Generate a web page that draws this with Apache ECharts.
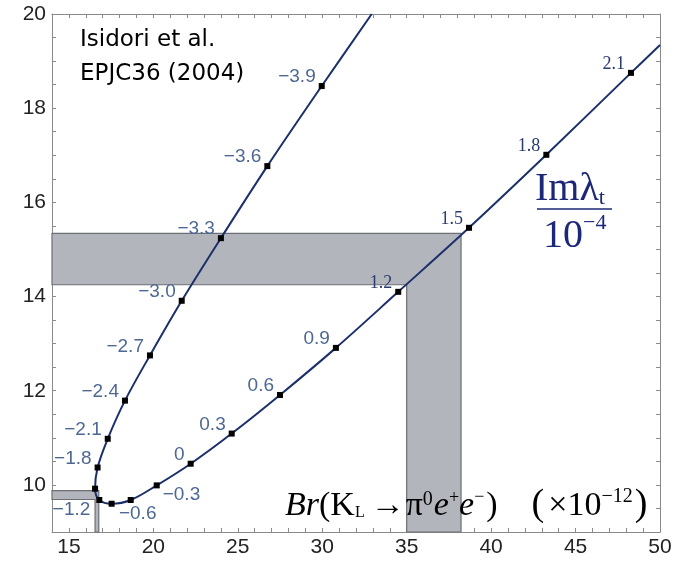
<!DOCTYPE html>
<html>
<head>
<meta charset="utf-8">
<script src="https://cdn.jsdelivr.net/npm/echarts@6/dist/echarts.min.js"></script>
<style>
  html, body { margin: 0; padding: 0; background: #fff; }
  #chart { width: 685px; height: 563px; }
</style>
</head>
<body>
<div id="chart"></div>
<script>
// Parameter value attached to each marked point on the curve
const paramValues = [-3.9, -3.6, -3.3, -3.0, -2.7, -2.4, -2.1, -1.8, -1.5, -1.2, -0.9,
                     -0.6, -0.3, 0, 0.3, 0.6, 0.9, 1.2, 1.5, 1.8, 2.1];
// Br(K_L -> pi0 e+ e-) in units of 1e-12
const brValues = [29.97, 26.75, 24.00, 21.68, 19.80, 18.32, 17.30, 16.70, 16.55, 16.80, 17.53,
                  18.66, 20.20, 22.21, 24.64, 27.50, 30.81, 34.50, 38.69, 43.27, 48.28];
// Im(lambda_t) in units of 1e-4
const imValues = [18.47, 16.77, 15.24, 13.91, 12.75, 11.79, 10.98, 10.37, 9.92, 9.68, 9.60,
                  9.68, 9.99, 10.45, 11.09, 11.91, 12.91, 14.10, 15.46, 17.01, 18.75];
// Points without a printed value
const unlabeledParams = [-1.5, -0.9];
// Where the curve leaves the plotting frame (upper branch, lower branch)
const curveStart = [32.93, 20.0];
const curveEnd = [50.0, 19.34];

// Allowed bands: [Im lower, Im upper] and [Br lower, Br upper]
const imBandMain = [14.25, 15.34];
const brBandMain = [35.0, 38.22];
const imBandLow = [9.69, 9.88];
const brBandLow = [16.55, 16.77];

// Axis ranges and tick labels
const xRange = [14, 50];
const yRange = [9, 20];
const xTickLabels = [15, 20, 25, 30, 35, 40, 45, 50];
const yTickLabels = [10, 12, 14, 16, 18, 20];

const fmtParam = p => p === 0 ? '0' : (p < 0 ? '\u2212' + Math.abs(p).toFixed(1) : p.toFixed(1));

// label placement around the markers
const labelOverrides = {
  '-1.2': { position: 'left', distance: 6, offset: [0, 10] },
  '-0.6': { position: 'bottom', distance: 1, offset: [7, 0] },
  '-0.3': { position: 'right', distance: 3, offset: [0, 9] }
};

const curveData = [{ value: curveStart, symbol: 'none', label: { show: false } }];
paramValues.forEach((p, i) => {
  const serif = p >= 1.2;
  const lab = {
    show: unlabeledParams.indexOf(p) < 0,
    position: 'left',
    distance: 3,
    offset: [0, -9],
    fontSize: serif ? 18 : 19,
    fontFamily: serif ? 'Liberation Serif' : 'Liberation Sans',
    color: serif ? '#2a3b6e' : '#4e6893'
  };
  Object.assign(lab, labelOverrides[String(p)] || {});
  curveData.push({ name: fmtParam(p), value: [brValues[i], imValues[i]], label: lab });
});
curveData.push({ value: curveEnd, symbol: 'none', label: { show: false } });

// annotation text laid out piece by piece
const mctx = document.createElement('canvas').getContext('2d');
function run(pieces, x, baseline, color) {
  const out = [];
  let cx = x;
  pieces.forEach(p => {
    cx += p.before || 0;
    const font = (p.italic ? 'italic ' : '') + p.size + 'px "Liberation Serif"';
    mctx.font = font;
    const w = mctx.measureText(p.t).width;
    out.push({
      type: 'text', x: cx, y: baseline + (p.dy || 0) - 0.3 * p.size, z: 20,
      style: { text: p.t, font: font, fill: color,
               align: 'left', verticalAlign: 'middle', textAlign: 'left', textVerticalAlign: 'middle' }
    });
    cx += w;
  });
  return out;
}

const navy = '#1c2777';
const graphics = [].concat(
  run([{ t: 'Br', size: 34, italic: true }, { t: '(', size: 34 }, { t: 'K', size: 34 },
       { t: 'L', size: 16, dy: 1 }, { t: '\u2192', size: 34, before: 6 }, { t: '\u03c0', size: 34, before: 1 },
       { t: '0', size: 20, dy: -11 }, { t: 'e', size: 34, italic: true, before: 1 },
       { t: '+', size: 18, dy: -13 }, { t: 'e', size: 34, italic: true },
       { t: '\u2212', size: 18, dy: -14 }, { t: ')', size: 34, before: 2 },
       { t: '(', size: 38, before: 34 }, { t: '\u00d7', size: 34, before: 4 }, { t: '10', size: 34 },
       { t: '\u221212', size: 20, dy: -14 }, { t: ')', size: 38, before: 2 }], 285, 516.7, '#000'),
  run([{ t: 'Im', size: 40 }, { t: '\u03bb', size: 40 }, { t: 't', size: 22, dy: 3 }], 535, 201.7, navy),
  run([{ t: '10', size: 40 }, { t: '\u22124', size: 22, dy: -18 }], 543, 248, navy),
  [
    { type: 'line', z: 20, shape: { x1: 537, y1: 209, x2: 612, y2: 209 },
      style: { stroke: navy, lineWidth: 1.6 } },
    { type: 'text', left: 80, top: 29, z: 20,
      style: { text: 'Isidori et al.', font: '23px "DejaVu Sans"', fill: '#000' } },
    { type: 'text', left: 80, top: 63, z: 20,
      style: { text: 'EPJC36 (2004)', font: '23px "DejaVu Sans"', fill: '#000' } }
  ]
);

const frameColor = '#8a8a8a';
function axisBase(extra) {
  return Object.assign({
    type: 'value',
    axisLine: { show: true, onZero: false, lineStyle: { color: frameColor, width: 1 } },
    axisTick: { show: true, inside: true, length: 4, lineStyle: { color: frameColor } },
    splitLine: { show: false }
  }, extra);
}

const chart = echarts.init(document.getElementById('chart'), null, { renderer: 'canvas' });
chart.setOption({
  animation: false,
  backgroundColor: '#fff',
  grid: { left: 52, top: 14, right: 25, bottom: 31, containLabel: false, outerBoundsMode: 'none' },
  xAxis: [
    axisBase({ position: 'bottom', min: xRange[0], max: xRange[1], interval: 1,
      axisLabel: { margin: 5, fontSize: 21, color: '#222', fontFamily: 'Liberation Sans',
        formatter: v => xTickLabels.indexOf(v) >= 0 ? String(v) : '' } }),
    axisBase({ position: 'top', min: xRange[0], max: xRange[1], interval: 1, axisLabel: { show: false } })
  ],
  yAxis: [
    axisBase({ position: 'left', min: yRange[0], max: yRange[1], interval: 0.5,
      axisLabel: { margin: 6, fontSize: 21, color: '#222', fontFamily: 'Liberation Sans',
        formatter: v => yTickLabels.indexOf(v) >= 0 ? String(v) : '' } }),
    axisBase({ position: 'right', min: yRange[0], max: yRange[1], interval: 0.5, axisLabel: { show: false } })
  ],
  series: [
    {
      type: 'custom',
      xAxisIndex: 0, yAxisIndex: 0,
      z: 1,
      data: [imBandMain.concat(brBandMain), imBandLow.concat(brBandLow)],
      renderItem: function (params, api) {
        const hLo = api.value(0), hHi = api.value(1), vLo = api.value(2), vHi = api.value(3);
        const pts = [
          [xRange[0], hHi], [vHi, hHi], [vHi, yRange[0]],
          [vLo, yRange[0]], [vLo, hLo], [xRange[0], hLo]
        ].map(p => api.coord(p));
        return {
          type: 'polygon',
          shape: { points: pts },
          style: { fill: '#b3b5bd', stroke: '#6e6f75', lineWidth: 1.2 }
        };
      }
    },
    {
      type: 'line',
      xAxisIndex: 0, yAxisIndex: 0,
      z: 3,
      data: curveData,
      smooth: 0.35,
      showAllSymbol: true,
      symbol: 'rect',
      symbolSize: 6,
      itemStyle: { color: '#000' },
      lineStyle: { color: '#1b2f6b', width: 2 },
      label: { show: true, formatter: '{b}' },
      emphasis: { disabled: true }
    }
  ],
  graphic: graphics
});
</script>
</body>
</html>
